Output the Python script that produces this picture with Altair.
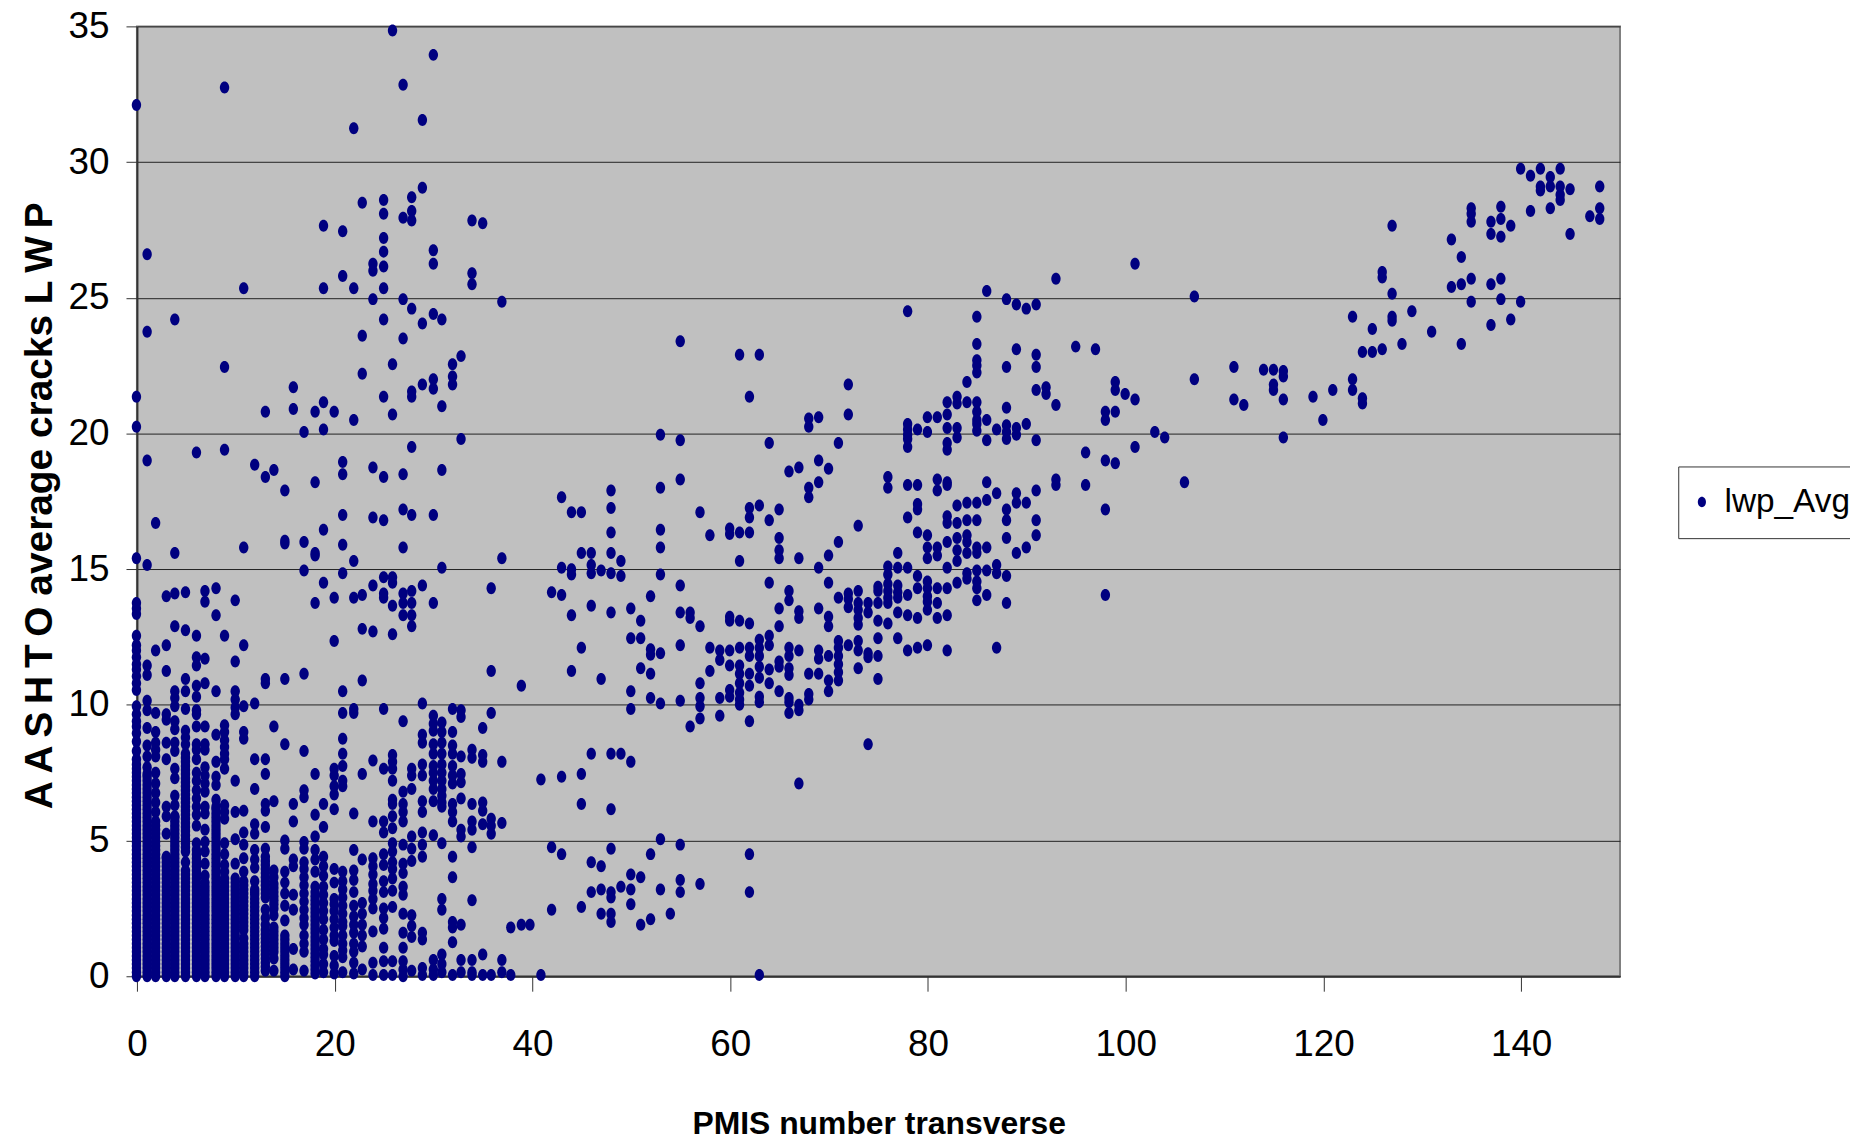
import altair as alt
import pandas as pd

c0 = [0,.3,.6,.9,1.2,1.5,1.8,2.1,2.4,2.7,3,3.3,3.6,3.9,4.2,4.5,4.8,5.1,5.4,5.7,6,6.3,6.6,6.9,7.2,7.5,7.8,8,8.3,8.65,8.95,9.2,9.4,9.65,9.95,10.55,10.8,11.05,11.3,11.5,11.75,12,12.2,12.55,13.35,13.55,13.75,15.4,20.25,21.35,32.1]
c1 = [0,.3,.6,.9,1.2,1.5,1.8,2.1,2.4,2.7,3,3.3,3.6,3.9,4.2,4.5,4.8,5.1,5.4,5.7,6,6.3,6.6,6.9,7.2,7.45,7.7,8.1,8.5,9.15,9.8,10.15,11.1,11.45,15.15,19,23.75,26.6]
c2 = [0,.3,.6,.9,1.2,1.5,1.8,2.1,2.4,2.7,3,3.3,3.6,3.9,4.2,4.5,4.8,5.1,5.4,5.7,6.05,6.4,6.75,7.1,7.5,8.1,8.35,8.6,9,9.7,12,16.7]
c3 = [0,.3,.6,.9,1.2,1.5,1.8,2.1,2.4,2.7,3,3.3,3.6,3.9,4.2,4.4,5.25,5.9,6.25,8,8.6,9.45,9.65,11.25,12.2,14]
c4 = [0,.3,.6,.9,1.2,1.5,1.8,2.1,2.4,2.7,3,3.3,3.6,3.9,4.2,4.5,4.8,5.1,5.4,5.7,5.9,6.3,6.65,7.3,7.65,8.3,8.6,9.1,9.4,9.95,10.25,10.5,12.9,14.1,15.6,24.2]
c5 = [0,.3,.6,.9,1.2,1.5,1.8,2.1,2.4,2.7,3,3.3,3.6,3.9,4.2,4.6,4.9,5.2,5.5,5.8,6.1,6.4,6.7,7,7.3,7.6,7.9,8.2,8.55,8.8,9.05,9.85,10.5,10.95,12.75,14.15]
c6 = [0,.3,.6,.9,1.2,1.5,1.8,2.1,2.4,2.7,3,3.3,3.6,3.9,4.2,4.5,4.9,5.55,5.95,6.25,6.55,6.85,7.2,7.5,8,8.35,8.55,9.2,9.65,9.8,10.3,10.7,11.45,11.75,12.55,19.3]
c7 = [0,.3,.6,.9,1.2,1.5,1.8,2.1,2.4,2.7,3,3.3,3.7,4.15,4.6,4.95,5.4,6,6.25,6.8,7.1,7.4,7.7,8.35,8.55,9.2,10.8,11.7,13.8,14.2]
c8 = [0,.3,.6,.9,1.2,1.5,1.8,2.1,2.4,2.7,3,3.3,3.6,3.9,4.2,4.5,4.8,5.1,5.4,5.7,6,6.25,6.5,7.05,7.35,7.9,8.9,10.5,13.3,14.3]
c9 = [0,.3,.6,.9,1.2,1.5,1.8,2.1,2.4,2.7,3,3.3,3.6,3.85,4.1,4.5,4.9,5.8,6.05,6.3,7.65,8,8.2,8.45,8.7,9,9.25,12.55,19.4,22.45,32.75]
c10 = [0,.3,.6,.9,1.2,1.5,1.8,2.1,2.4,2.7,3,3.3,3.6,4.15,5.05,6.05,7.2,9.65,9.9,10.2,10.5,11.6,13.85]
c11 = [0,.3,.6,.9,1.2,1.4,1.7,2,2.3,2.6,2.9,3.2,3.5,3.85,4.35,4.85,5.3,6.1,8.75,9,9.95,12.2,15.8,25.35]
c12 = [0,.3,.6,.9,1.2,1.5,1.8,2.1,2.4,2.7,3,3.2,3.5,4,4.3,4.65,5.25,5.6,6.9,8,10.05,18.85]
c13 = [.2,.5,.8,1.1,1.4,1.7,1.9,2.15,2.45,2.9,3.2,3.5,3.8,4.1,4.4,4.7,5.5,6.1,6.35,7.45,8,10.8,10.95,18.4,20.8]
c14 = [.2,.65,.9,1.2,1.5,1.8,2.25,2.5,2.8,3.1,3.4,3.65,3.9,6.45,9.2,18.65]
c15 = [0,.3,.6,.9,1.2,1.5,2.05,2.6,3.05,3.45,3.85,4.7,5,8.55,10.95,15.95,16.05,17.9]
c16 = [.25,1,2.45,3,4.05,4.3,5.7,6.35,20.9,21.7]
c17 = [.2,.9,1.2,1.5,1.9,2.15,2.45,2.75,3.05,3.35,3.65,3.95,4.2,4.7,4.95,6.6,6.85,8.3,11.15,14.95,16,20.05]
c18 = [.1,.4,.7,1,1.3,1.6,1.9,2.2,2.5,2.8,3.1,3.3,3.85,4.3,4.65,5.15,5.95,7.45,13.75,15.5,15.6,18.2,20.8]
c19 = [.15,.45,.8,1,1.35,1.7,2.1,2.4,2.7,3,3.3,3.7,4.05,4.4,5.5,6.35,14.5,16.45,20.15,21.15,25.35,27.65]
c20 = [.1,.4,.75,1.3,1.5,1.8,2.1,2.4,2.65,2.85,3.45,3.95,6.15,6.7,7,7.4,7.65,12.35,13.95,20.8]
c21 = [.15,.7,.95,1.2,1.5,1.85,2,2.3,2.6,2.9,3.2,3.5,3.85,7,7.2,7.75,8.2,8.75,9.7,10.5,14.85,15.9,17,18.5,18.95,25.8,27.45]
c22 = [.1,.5,.9,1.2,1.6,1.9,2.2,2.6,3.1,3.55,3.9,4.65,6,9.7,9.85,13.95,15.3,20.5,25.35,31.25]
c23 = [.25,1.1,1.5,1.9,2.3,2.7,4.3,7.45,10.9,12.8,14.05,22.2,23.6,28.5]
c24 = [.05,.5,1.65,2.5,2.85,3.15,3.4,3.75,4.05,4.35,5.7,7.95,12.7,14.4,16.9,18.75,24.95,26,26.25]
c25 = [.05,.55,1.05,1.75,2.15,2.5,3.1,3.5,4.1,4.5,5.3,5.7,7.65,9.85,13.95,14.1,14.7,16.8,18.4,21.35,24.2,25.35,26.15,26.7,27.2,28.1,28.6]
c26 = [.05,.55,2.55,3.15,3.6,3.95,4.2,4.6,4.9,5.45,5.9,6.35,6.5,7.2,7.65,7.9,8.15,12.6,13.65,14.5,14.7,20.7,22.55,34.85]
c27 = [0,.25,.55,1.05,1.6,2.3,3,3.3,3.8,4.15,4.85,5.7,6.05,6.35,6.8,9.4,13.3,13.75,14.1,15.8,17.2,18.5,23.5,24.95,27.95,32.85]
c28 = [.2,1.45,1.85,2.25,4.25,4.7,5.15,6.9,7.4,7.65,12.9,13.3,13.75,14.2,17,19.5,21.35,21.55,24.6,27.85,28.2,28.7]
c29 = [.05,.3,1.35,1.6,4.4,4.85,5.3,6.05,6.45,7.4,7.8,8.6,8.9,10.05,14.4,21.8,24.05,29.05,31.55]
c30 = [.05,.25,.6,5.2,6.45,6.9,7.2,7.5,7.75,8.2,8.55,9.05,9.3,9.6,13.75,17,21.65,22,24.4,26.25,26.75,33.95]
c31 = [.15,.45,.8,2.45,2.85,4.9,6.25,6.4,6.65,6.9,7.2,7.5,7.8,8.2,8.6,9,9.35,15.05,18.65,21,24.2]
c32 = [.05,1.25,1.8,2,3.65,4.4,5.7,6.05,6.35,7.1,7.4,7.75,8.2,8.5,9,9.85,21.8,22.1,22.55]
c33 = [.15,.6,1.9,5.15,5.4,6.55,7.15,7.45,8.1,9.55,9.8,19.8,22.85]
c34 = [.05,.15,.6,2.8,4.75,5.4,5.7,6.35,8.05,8.35,25.5,25.9,27.85]
c35 = [.05,.8,5.6,6.1,6.4,7.9,8.15,9.15,27.75]
c36 = [.05,5.25,5.55,5.8,9.7,11.25,14.3]
c37 = [.15,.6,5.65,7.9,15.4,24.85]
c38 = [.05,1.8]
c39 = [1.9,10.7]
c40 = [1.9]
c41 = [.05,7.25]
c42 = [2.45,4.75,14.15]
c43 = [4.5,7.35,14.05,15.05,17.65]
c44 = [11.25,13.3,14.8,15,17.1]
c45 = [2.55,6.35,7.45,12.1,15.6,17.1]
c46 = [3.1,4.2,8.2,13.65,14.85,15.15,15.6]
c47 = [2.3,3.2,4.05,10.95,14.95]
c48 = [2,2.3,2.9,3.1,4.7,6.15,8.2,13.4,14.85,15.6,16.35,17.25,17.9]
c49 = [3.3,8.2,14.75,15.3]
c50 = [2.65,3.2,3.75,7.9,9.85,10.5,12.45,13.55]
c51 = [1.9,3.65,11.35,12.45,13.1]
c52 = [2.1,4.5,10.25,11.15,11.85,12.05,14]
c53 = [3.2,5.05,10.05,11.9,14.8,15.8,16.45,18,19.95]
c54 = [2.3]
c55 = [3.1,3.55,4.85,10.15,12.2,13.4,14.4,18.3,19.75,23.4]
c56 = [9.2,13.2,13.4]
c57 = [3.4,9.5,9.95,10.25,10.8,12.9,17.1]
c58 = [11.25,12.1,16.25]
c59 = [9.6,10.25,11.65,12]
c60 = [10.3,10.55,11.45,12,13.1,13.25,16.3,16.5]
c61 = [10,10.2,10.45,10.8,11.15,11.45,12.1,13.1,15.3,16.35,22.9]
c62 = [3.1,4.5,9.4,10.7,11.15,11.8,12.1,13,16.35,16.9,17.25,21.35]
c63 = [.05,10.1,10.3,11,11.4,11.8,12.1,12.4,17.35,22.9]
c64 = [10.8,11.3,12.2,12.55,14.5,16.8,19.65]
c65 = [10.5,11.4,11.6,12.9,13.55,15.4,15.7,16.15,17.2]
c66 = [9.7,10.1,10.25,11.1,11.35,11.8,12.1,13.85,14.2,18.6]
c67 = [7.1,9.8,10,12,13.2,13.45,15.4,18.75]
c68 = [10.2,10.4,11.15,17.65,18,20.25,20.55]
c69 = [11.15,11.7,12,13.55,15.05,18.2,19,20.6]
c70 = [10.5,10.9,11.8,12.9,13.25,14.5,15.5,18.7]
c71 = [10.9,11.2,11.5,11.8,12.1,12.35,13.95,16,19.65]
c72 = [12.2,13.6,13.9,14.1,20.7,21.8]
c73 = [11.35,12,12.35,12.95,13.2,13.5,13.75,14.2,16.6]
c74 = [8.55,11.75,11.9,13.4,13.75]
c75 = [10.95,11.8,12.45,13.1,13.75,14.2,14.35]
c76 = [13,13.75,13.95,14.2,14.45,14.8,15.1,18,18.4]
c77 = [12.45,13.4,13.95,14.15,14.4,15.05,15.6]
c78 = [12,13.3,14.05,15.05,16.9,18.1,19.5,19.8,19.95,20.15,20.35,24.5]
c79 = [12.1,13.2,14.3,14.75,16.35,17.2,17.4,18.1,20.15]
c80 = [12.2,13.5,13.8,14,14.3,14.55,15.4,15.8,16.25,20.05,20.6]
c81 = [13.2,13.75,14.3,15.5,15.8,17.9,18.3,20.6]
c82 = [12,13.3,14.3,15.05,16,16.7,16.95,18.1,18.2,19.4,19.65,20.2,20.7,21.15]
c83 = [14.5,15.3,15.7,16.15,16.7,17.35,19.85,20.2,21.1,21.35]
c84 = [14.65,14.85,15.6,16,16.25,16.8,17.45,21.15,21.9]
c85 = [13.85,14.3,14.55,14.95,15.6,15.8,16.8,17.45,20.1,20.35,20.5,20.8,21.15,22.25,22.5,22.7,23.3,24.3]
c86 = [14.05,14.95,15.8,17.55,18.2,19.75,20.5,25.25]
c87 = [12.1,14.85,15.15,17.8,20.15]
c88 = [13.75,14.75,16.15,16.8,17.2,19.8,20.05,20.3,20.95,22.45,24.95]
c89 = [15.6,17.45,17.8,19.95,20.2,23.1,24.75]
c90 = [15.8,17.45,20.35,24.6]
c91 = [16.25,16.8,17.9,19.75,21.6,22.45,22.9,24.75]
c92 = [21.45,21.7]
c93 = [18.1,18.3,21.05,25.7]
c95 = [23.2]
c96 = [18.1,19.3]
c97 = [23.1]
c98 = [14.05,17.2,19,20.5,20.8]
c99 = [18.9,20.8,21.6,21.9]
c100 = [21.45]
c101 = [19.5,21.25,26.25]
c103 = [20.05]
c104 = [19.85]
c106 = [18.2]
c107 = [22,25.05]
c111 = [21.25,22.45]
c112 = [21.05]
c114 = [22.35]
c115 = [21.6,21.8,22.35]
c116 = [19.85,21.25,22.1,22.3]
c119 = [21.35]
c120 = [20.5]
c121 = [21.6]
c123 = [21.6,22,24.3]
c124 = [21.1,21.3,23]
c125 = [23,23.85]
c126 = [23.1,25.75,25.95]
c127 = [24.15,24.3,25.15,27.65]
c128 = [23.3]
c129 = [24.5]
c131 = [23.75]
c133 = [25.4,27.15]
c134 = [23.3,25.5,26.5]
c135 = [24.85,25.7,27.8,28.1,28.3]
c137 = [24,25.5,27.35,27.8]
c138 = [24.95,25.7,27.25,27.9,28.35]
c139 = [24.2,27.65]
c140 = [24.85,29.75]
c141 = [28.2,29.5]
c142 = [28.95,29.1,29.75]
c143 = [28.3,29.1,29.45]
c144 = [28.6,28.8,29.1,29.75]
c145 = [27.35,29]
c147 = [28]
c148 = [27.9,28.3,29.1]

# further readings inside the solid stacks of the densest columns
d0 = [.15,.45,.75,1.05,1.35,1.65,1.95,2.25,2.55,2.85,3.15,3.45,3.75,4.05,4.35,4.65,4.95,5.25,5.55,5.85,6.15,6.45,6.75,7.05,7.35,7.65]
d1 = [.15,.45,.75,1.05,1.35,1.65,1.95,2.25,2.55,2.85,3.15,3.45,3.75,4.05,4.35,4.65,4.95,5.25,5.55,5.85,6.15,6.45,6.75,7.05,7.35]
d2 = [.15,.45,.75,1.05,1.35,1.65,1.95,2.25,2.55,2.85,3.15,3.45,3.75,4.05,4.35,4.65,4.95,5.25,5.55]
d3 = [.15,.45,.75,1.05,1.35,1.65,1.95,2.25,2.55,2.85,3.15,3.45,3.75,4.05,4.35]
d4 = [.15,.45,.75,1.05,1.35,1.65,1.95,2.25,2.55,2.85,3.15,3.45,3.75,4.05,4.35,4.65,4.95,5.25,5.55,5.85]
d5 = [.15,.45,.75,1.05,1.35,1.65,1.95,2.25,2.55,2.85,3.15,3.45,3.75,4.75,5.05,5.35,5.65,5.95,6.25,6.55,6.85,7.15,7.45,7.75,8.05]
d6 = [.15,.45,.75,1.05,1.35,1.65,1.95,2.25,2.55,2.85,3.15,3.45,3.75,4.05,4.35,4.65]
d7 = [.15,.45,.75,1.05,1.35,1.65,1.95,2.25,2.55,2.85,3.15,3.45]
d8 = [.15,.45,.75,1.05,1.35,1.65,1.95,2.25,2.55,2.85,3.15,3.45,3.75,4.05,4.35,4.65,4.95,5.25,5.55,5.85,6.15]
d9 = [.15,.45,.75,1.05,1.35,1.65,1.95,2.25,2.55,2.85,3.15,3.45]
d10 = [.15,.45,.75,1.05,1.35,1.65,1.95,2.25,2.55,2.85,3.15,3.45]
d11 = [.15,.45,.75,1.05,1.85,2.15,2.45,2.75,3.05,3.35]
d12 = [.15,.45,.75,1.05,1.35,1.65,1.95,2.25,2.55,2.85,3.1]
d13 = [.35,.65,.95,1.25,1.55,3.05,3.35,3.65,3.95,4.25]
d14 = [1.05,1.35,1.65,2.65,2.95,3.25]
d15 = [.15,.45,.75,1.05,1.35]
d18 = [.25,.55,.85,1.15,1.45,1.75,2.05,2.35,2.65,2.95]
dense_sets = {"0": d0, "1": d1, "2": d2, "3": d3, "4": d4, "5": d5, "6": d6, "7": d7, "8": d8, "9": d9,
              "10": d10, "11": d11, "12": d12, "13": d13, "14": d14, "15": d15, "18": d18}

# column positions (the source drew on a coarse pixel raster)
column_x = [0,1.08,1.94,3.02,3.88,4.96,6.07,6.93,8.05,8.91,9.99,10.85,11.96,13.04,13.9,15.01,15.87,16.95,18.07,18.92,20,20.86,21.98,22.84,23.92,25,25.9,26.97,27.84,28.92,30.03,30.89,31.97,32.83,33.94,35.02,35.88,36.96,37.86,38.93,39.8,40.91,41.99]

x_ticks = [0, 20, 40, 60, 80, 100, 120, 140]
y_ticks = [0, 5, 10, 15, 20, 25, 30, 35]
series_name = "lwp_Avg"
TS = "\u2009"
y_title = f"A{TS}A{TS}S{TS}H{TS}T{TS}O average cracks L{TS}W{TS}P"
x_title = "PMIS number transverse"

rows = []
for name, vals in list(globals().items()):
    if name[0] == "c" and name[1:].isdigit():
        col = int(name[1:])
        xv = column_x[col] if col < len(column_x) else col
        rows += [{"x": xv, "y": v, "s": series_name} for v in vals]
for key, vals in dense_sets.items():
    rows += [{"x": column_x[int(key)], "y": v, "s": series_name} for v in vals]
df = pd.DataFrame(rows)

ellipse = "M-0.78,0A0.78,1 0 1,1 0.78,0A0.78,1 0 1,1 -0.78,0Z"
FONT = "Liberation Sans"

chart = (
    alt.Chart(df)
    .mark_point(filled=True, shape=ellipse, size=145, opacity=1, xOffset=-0.5)
    .encode(
        x=alt.X("x:Q", scale=alt.Scale(domain=[0, 150], nice=False, zero=False),
                axis=alt.Axis(values=x_ticks, title=x_title, grid=False, format="d",
                              tickSize=15, tickColor="#333333", domainColor="#333333", domainWidth=2,
                              labelFont=FONT, labelFontSize=37, labelColor="black", labelPadding=36,
                              labelOverlap=False, labelFlush=False,
                              titleFont=FONT, titleFontSize=32, titleFontWeight="bold",
                              titleColor="black", titleX=745, titleY=148, titleBaseline="middle")),
        y=alt.Y("y:Q", scale=alt.Scale(domain=[0, 35], nice=False),
                axis=alt.Axis(values=y_ticks, title=y_title, grid=True, gridColor="#222222", gridWidth=1,
                              tickSize=11, tickColor="#333333", domainColor="#333333", domainWidth=2,
                              labelFont=FONT, labelFontSize=37, labelColor="black", labelPadding=17,
                              labelOverlap=False, labelFlush=False,
                              titleFont=FONT, titleFontSize=39, titleFontWeight="bold",
                              titleColor="black", titleX=-98, titleY=481, titleBaseline="middle")),
        color=alt.Color("s:N", scale=alt.Scale(domain=[series_name], range=["#000080"]),
                        legend=alt.Legend(orient="none", legendX=1548, legendY=442, title=None,
                                          symbolType=ellipse, symbolSize=110, symbolOpacity=1,
                                          symbolOffset=-12,
                                          labelFont=FONT, labelFontSize=33.5, labelColor="black",
                                          labelOffset=6, strokeColor="#333333", fillColor="white",
                                          padding=19, cornerRadius=0)),
    )
    .properties(
        width=1489.5, height=954,
        padding={"left": 129.5, "top": 16, "right": 231, "bottom": 162},
        autosize=alt.AutoSizeParams(type="none"),
        background="white",
    )
    .configure_view(fill="#C0C0C0", stroke="#808080", strokeWidth=2)
)

chart.save("out.html", embed_options={"renderer": "svg", "actions": False})
